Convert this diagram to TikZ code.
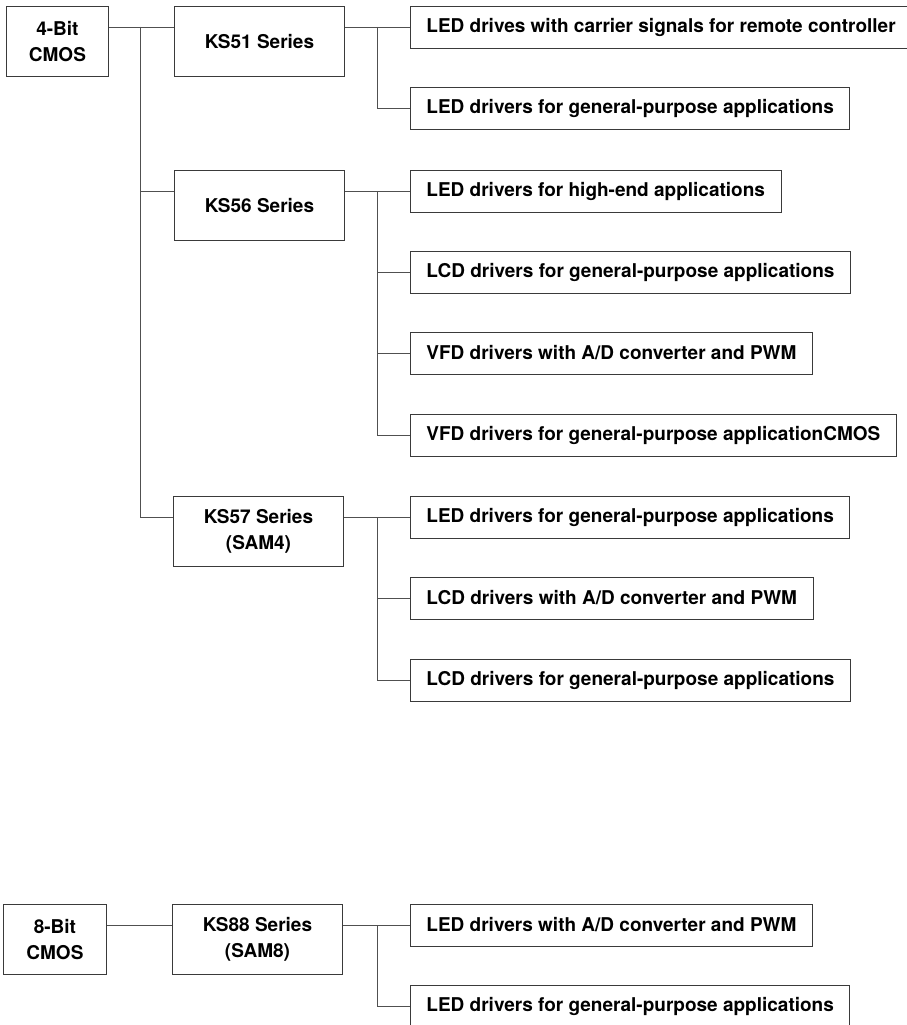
\documentclass[tikz,border=0pt]{standalone}
\usepackage{fontspec}
\setmainfont{TeX Gyre Heros}
\usetikzlibrary{positioning}
\definecolor{ink}{HTML}{3A3A3A}
\definecolor{wire}{HTML}{505050}

\begin{document}
\begin{tikzpicture}[
  x=1pt, y=-1pt,
  font=\bfseries\fontsize{19}{26}\selectfont,
  family/.style={draw=ink, line width=0.9pt, anchor=north west, minimum width=#1,
    minimum height=70pt, align=center, inner sep=0pt},
  family/.default=170pt,
  driver/.style={draw=ink, line width=0.9pt, anchor=west, minimum height=42pt,
    inner xsep=16pt, inner ysep=0pt},
  link/.style={draw=wire, line width=0.8pt}
]
  \useasboundingbox (0,0) rectangle (907,1025);

  % 4-bit families
  \node[family=102pt] (cmos4) at (6,6) {4-Bit\\CMOS};
  \node[family] (ks51) at (174,6) {KS51 Series};
  \node[family] (ks56) at (174,170) {KS56 Series};
  \node[family] (ks57) at (173,496) {KS57 Series\\(SAM4)};

  % 8-bit family
  \node[family=103pt] (cmos8) at (3,904) {8-Bit\\CMOS};
  \node[family] (ks88) at (172,904) {KS88 Series\\(SAM8)};

  % drivers
  \node[driver] (led51a) at (410,27) {LED drives with carrier signals for remote controller};
  \node[driver] (led51b) at (410,108) {LED drivers for general-purpose applications};
  \node[driver] (led56) at (410,191) {LED drivers for high-end applications};
  \node[driver] (lcd56) at (410,272) {LCD drivers for general-purpose applications};
  \node[driver] (vfd56a) at (410,353) {VFD drivers with A/D converter and PWM};
  \node[driver] (vfd56b) at (410,435) {VFD drivers for general-purpose applicationCMOS};
  \node[driver] (led57) at (410,517) {LED drivers for general-purpose applications};
  \node[driver] (lcd57a) at (410,598) {LCD drivers with A/D converter and PWM};
  \node[driver] (lcd57b) at (410,680) {LCD drivers for general-purpose applications};
  \node[driver] (led88a) at (410,925) {LED drivers with A/D converter and PWM};
  \node[driver] (led88b) at (410,1006) {LED drivers for general-purpose applications};

  % forks
  \coordinate (trunk4) at (140,27);
  \coordinate (fork51) at (377,27);
  \coordinate (fork56) at (377,191);
  \coordinate (fork57) at (377,517);
  \coordinate (fork88) at (377,925);

  % connectors
  \draw[link] ([yshift=-21pt]cmos4.north east) -- ([yshift=-21pt]ks51.north west);
  \draw[link] (trunk4) |- ([yshift=-21pt]ks56.north west);
  \draw[link] (trunk4) |- ([yshift=-21pt]ks57.north west);
  \draw[link] ([yshift=-21pt]cmos8.north east) -- ([yshift=-21pt]ks88.north west);

  \draw[link] ([yshift=-21pt]ks51.north east) -- (fork51);
  \foreach \n in {led51a,led51b} \draw[link] (fork51) |- (\n.west);
  \draw[link] ([yshift=-21pt]ks56.north east) -- (fork56);
  \foreach \n in {led56,lcd56,vfd56a,vfd56b} \draw[link] (fork56) |- (\n.west);
  \draw[link] ([yshift=-21pt]ks57.north east) -- (fork57);
  \foreach \n in {led57,lcd57a,lcd57b} \draw[link] (fork57) |- (\n.west);
  \draw[link] ([yshift=-21pt]ks88.north east) -- (fork88);
  \foreach \n in {led88a,led88b} \draw[link] (fork88) |- (\n.west);
\end{tikzpicture}
\end{document}
